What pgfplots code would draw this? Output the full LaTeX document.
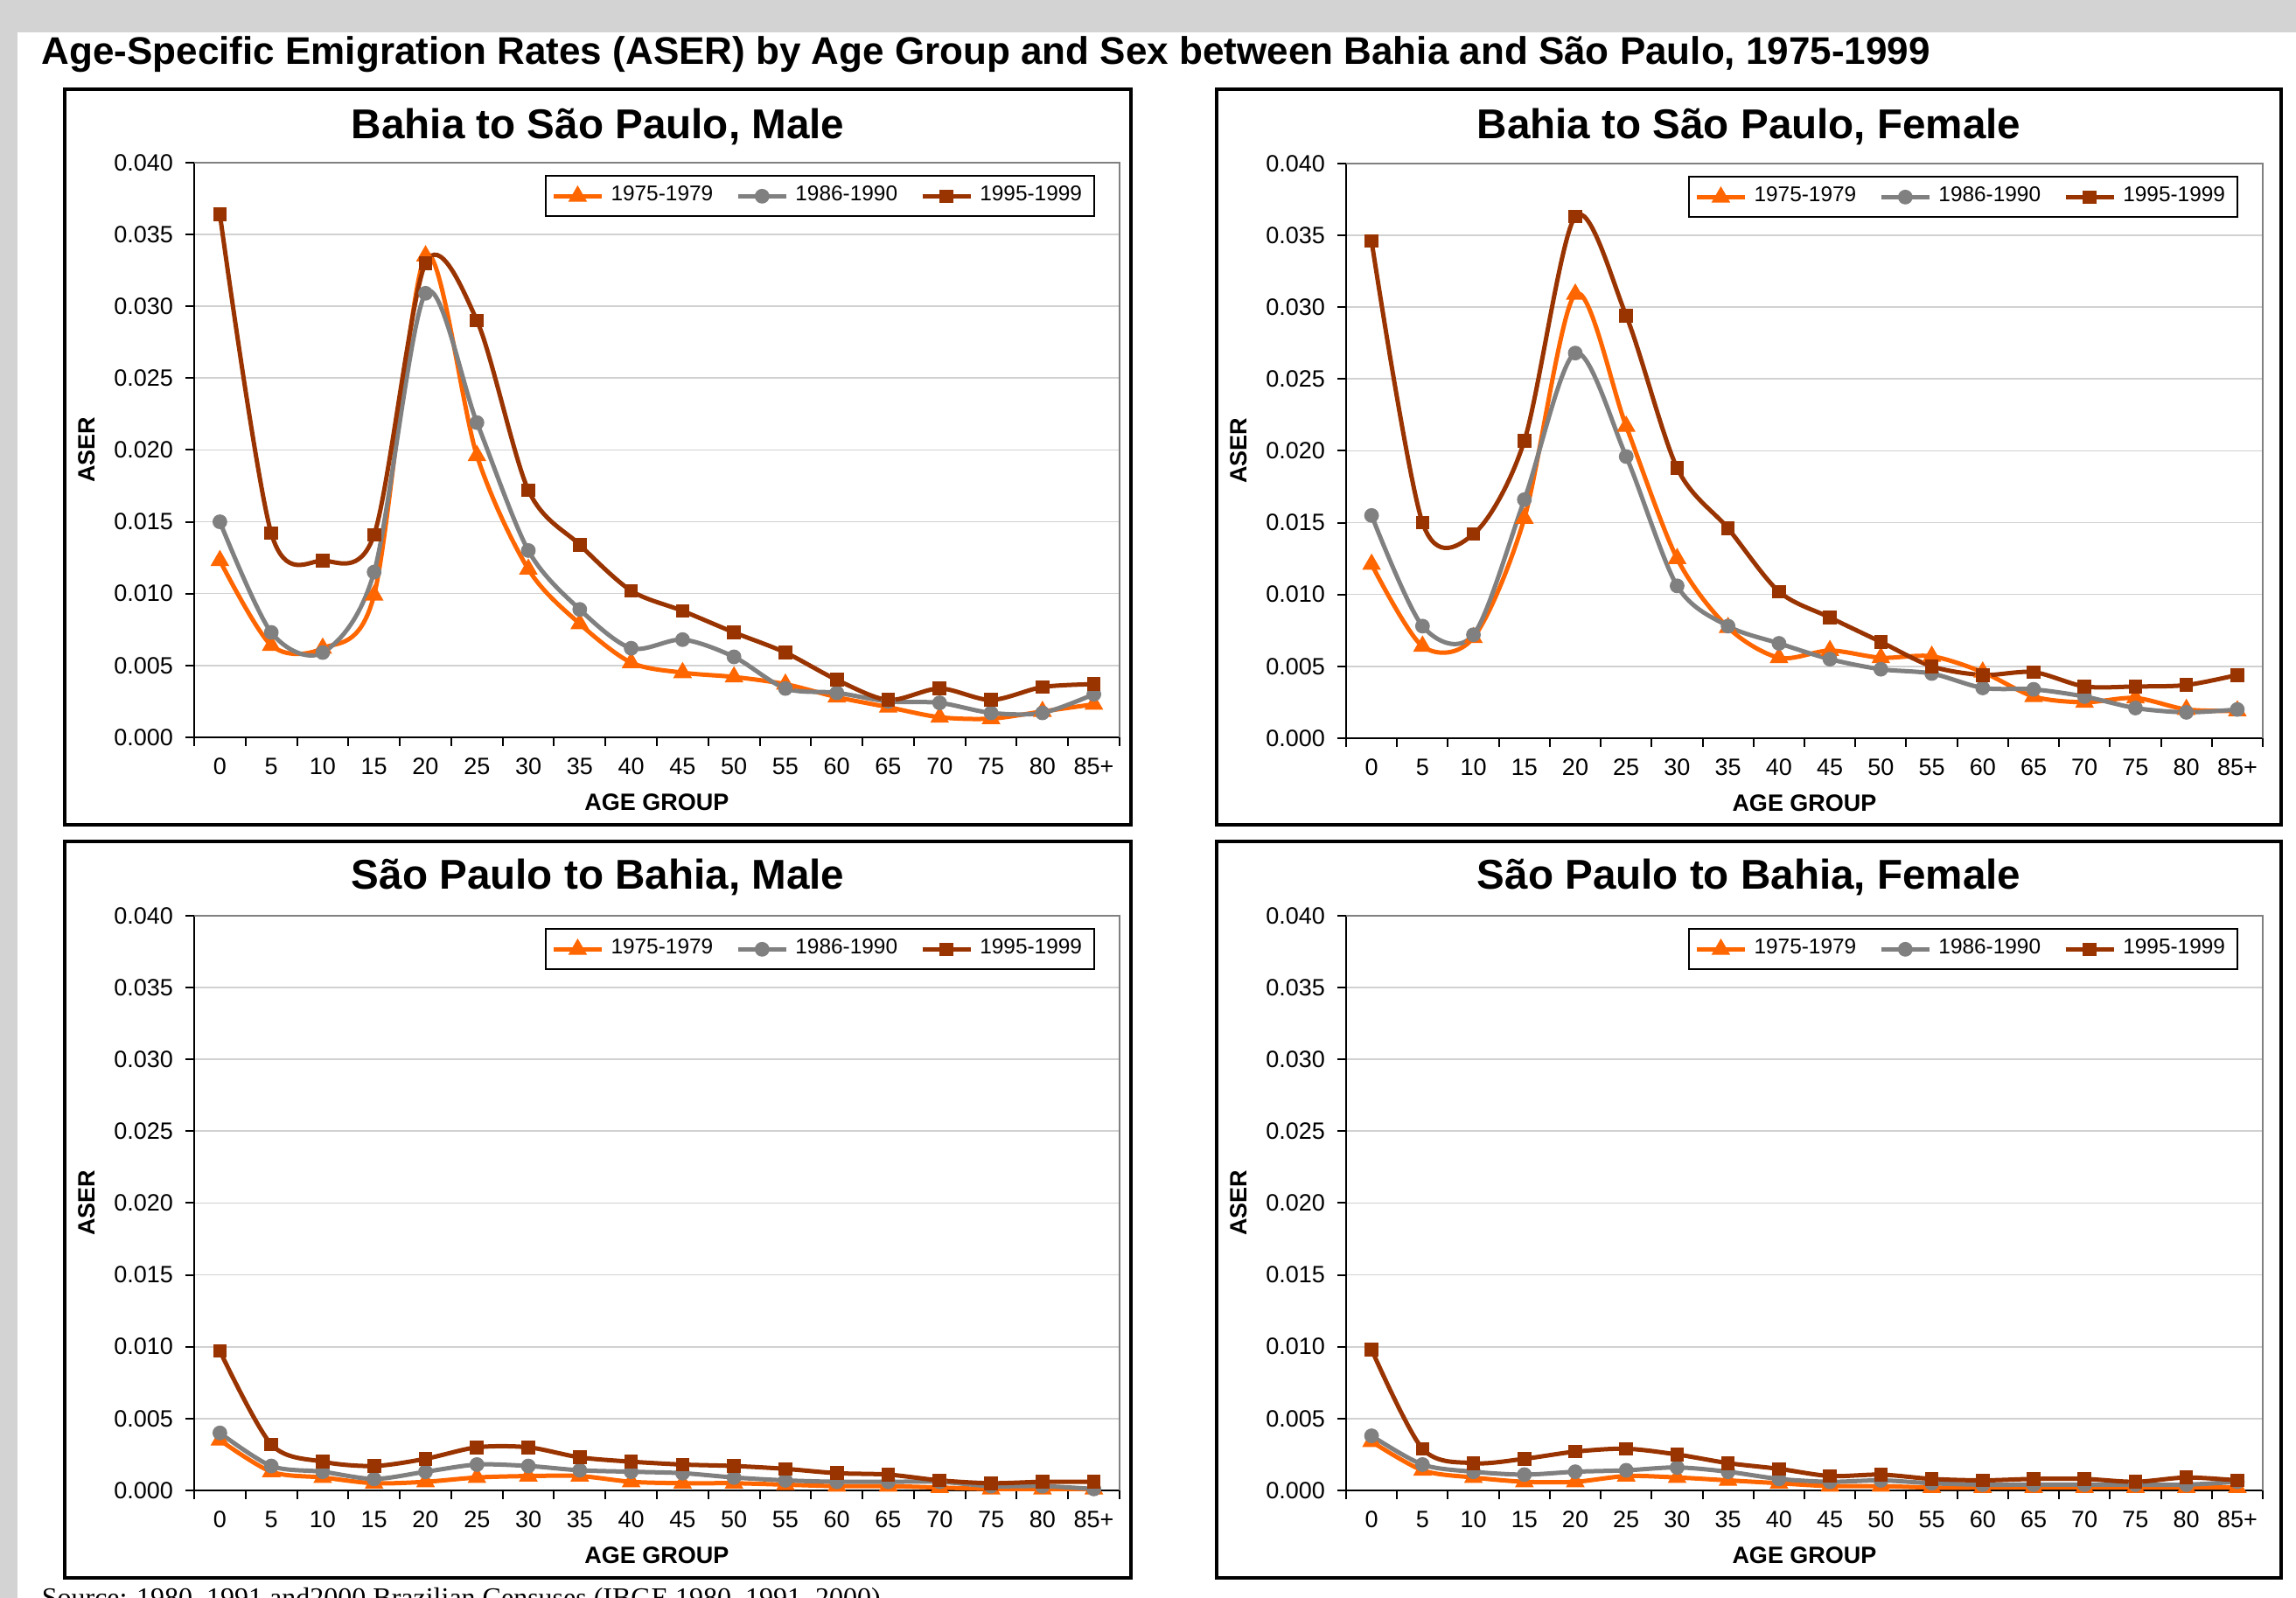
\documentclass[border=0pt]{standalone}
\usepackage{fontspec}
\setmainfont{Liberation Sans}
\newfontfamily\seriffont{Liberation Serif}
\usepackage{graphicx}
\usepackage{pgfplots}
\usepackage{pgfplotstable}
\pgfplotsset{compat=1.18}
\definecolor{cA}{HTML}{FF6600}
\definecolor{cB}{HTML}{808080}
\definecolor{cC}{HTML}{993300}
\definecolor{bg}{HTML}{D3D3D3}

% Bahia to Sao Paulo, Male
\pgfplotstableread{
x a b c
0 0.0123 0.0150 0.0364
1 0.0064 0.0073 0.0142
2 0.0062 0.0059 0.0123
3 0.0099 0.0115 0.0141
4 0.0335 0.0309 0.0330
5 0.0196 0.0219 0.0290
6 0.0117 0.0130 0.0172
7 0.0079 0.0089 0.0134
8 0.0052 0.0062 0.0102
9 0.0045 0.0068 0.0088
10 0.0042 0.0056 0.0073
11 0.0037 0.0034 0.0059
12 0.0028 0.0031 0.0040
13 0.0021 0.0025 0.0026
14 0.0014 0.0024 0.0034
15 0.0013 0.0017 0.0026
16 0.0018 0.0017 0.0035
17 0.0023 0.0030 0.0037
}\TLdata
% Bahia to Sao Paulo, Female
\pgfplotstableread{
x a b c
0 0.0121 0.0155 0.0346
1 0.0064 0.0078 0.0150
2 0.0070 0.0072 0.0142
3 0.0153 0.0166 0.0207
4 0.0309 0.0268 0.0363
5 0.0217 0.0196 0.0294
6 0.0125 0.0106 0.0188
7 0.0077 0.0078 0.0146
8 0.0056 0.0066 0.0102
9 0.0061 0.0055 0.0084
10 0.0056 0.0048 0.0067
11 0.0057 0.0045 0.0050
12 0.0046 0.0035 0.0044
13 0.0029 0.0034 0.0046
14 0.0025 0.0029 0.0036
15 0.0028 0.0021 0.0036
16 0.0020 0.0018 0.0037
17 0.0019 0.0020 0.0044
}\TRdata
% Sao Paulo to Bahia, Male
\pgfplotstableread{
x a b c
0 0.0035 0.0040 0.0097
1 0.0013 0.0017 0.0032
2 0.0009 0.0013 0.0020
3 0.0005 0.0008 0.0017
4 0.0006 0.0013 0.0022
5 0.0009 0.0018 0.0030
6 0.0010 0.0017 0.0030
7 0.0010 0.0014 0.0023
8 0.0006 0.0013 0.0020
9 0.0005 0.0012 0.0018
10 0.0005 0.0009 0.0017
11 0.0004 0.0007 0.0015
12 0.0003 0.0006 0.0012
13 0.0003 0.0006 0.0011
14 0.0002 0.0006 0.0007
15 0.0001 0.0003 0.0005
16 0.0001 0.0003 0.0006
17 0.0001 0.0001 0.0006
}\BLdata
% Sao Paulo to Bahia, Female
\pgfplotstableread{
x a b c
0 0.0034 0.0038 0.0098
1 0.0014 0.0018 0.0029
2 0.0009 0.0013 0.0019
3 0.0006 0.0011 0.0022
4 0.0006 0.0013 0.0027
5 0.0010 0.0014 0.0029
6 0.0009 0.0016 0.0025
7 0.0007 0.0013 0.0019
8 0.0005 0.0008 0.0015
9 0.0003 0.0006 0.0010
10 0.0003 0.0007 0.0011
11 0.0002 0.0005 0.0008
12 0.0002 0.0004 0.0007
13 0.0002 0.0004 0.0008
14 0.0002 0.0004 0.0008
15 0.0002 0.0004 0.0006
16 0.0002 0.0004 0.0009
17 0.0002 0.0006 0.0007
}\BRdata

\pgfplotsset{
  panel/.style={
    scale only axis, height=164.3pt,
    xmin=-0.5, xmax=17.5, ymin=0, ymax=0.04,
    xtick={-0.5,0.5,...,17.5},
    x tick label as interval,
    xticklabels={0,5,10,15,20,25,30,35,40,45,50,55,60,65,70,75,80,85+,{}},
    ytick={0,0.005,0.01,0.015,0.02,0.025,0.03,0.035,0.04},
    scaled y ticks=false,
    yticklabel style={/pgf/number format/.cd,fixed,fixed zerofill,precision=3,/tikz/.cd},
    /pgf/number format/assume math mode=true,
    tick label style={font=\fontsize{6.75}{8}\selectfont},
    axis x line*=bottom, axis y line*=left,
    axis line style={black, line width=0.6pt},
    tick align=outside,
    major tick length=2.5pt,
    tick style={black, line width=0.5pt},
    ymajorgrids, grid style={black!18, line width=0.4pt},
    xlabel={AGE GROUP}, ylabel={ASER},
    label style={font=\bfseries\fontsize{6.75}{8}\selectfont},
    xlabel style={at={(axis description cs:0.5,0)}, anchor=center, yshift=-18.5pt},
    ylabel style={at={([xshift=-30.75pt]axis description cs:0,0.5)}, anchor=center},
    clip=false,
    legend columns=3,
    legend style={at={(axis description cs:1,1)}, anchor=north east,
      xshift=-7pt, yshift=-3.6pt, draw=black, line width=0.5pt,
      font=\fontsize{6.1}{7}\selectfont, inner xsep=1.5pt, inner ysep=0.9pt,
      /tikz/every even column/.append style={column sep=4.5pt}, cells={anchor=west}},
    legend image code/.code={\draw[mark repeat=2,mark phase=2,##1] plot coordinates {(0pt,0pt) (6.9pt,0pt) (13.8pt,0pt)};},
    every axis plot/.append style={smooth, tension=0.5, line width=1.25pt},
  },
  sA/.style={color=cA, mark=triangle*, mark size=2.8pt, mark options={solid, line width=0.3pt}},
  sB/.style={color=cB, mark=*, mark size=1.95pt, mark options={solid, line width=0.3pt}},
  sC/.style={color=cC, mark=square*, mark size=1.8pt, mark options={solid, line width=0.3pt}},
}
\newcommand{\spines}{\draw[cB, line width=0.5pt] (rel axis cs:0,1) -- (rel axis cs:1,1) -- (rel axis cs:1,0);}

\begin{document}
\begin{tikzpicture}
\useasboundingbox (0,0) rectangle (656.25pt,-456.75pt);
\fill[bg] (0,0) rectangle (656.25pt,-456.75pt);
\fill[white] (5pt,-9.25pt) rectangle (656.25pt,-456.75pt);
\node[anchor=west, inner sep=0, font=\bfseries\fontsize{11}{13}\selectfont] at (11.75pt,-15.5pt)
  {Age-Specific Emigration Rates (ASER) by Age Group and Sex between Bahia and São Paulo, 1975-1999};

% panel frames
\draw[black, line width=0.8pt] (18.5pt,-25.5pt) rectangle (323.25pt,-235.75pt);
\draw[black, line width=0.8pt] (347.75pt,-25.5pt) rectangle (652pt,-235.75pt);
\draw[black, line width=0.8pt] (18.5pt,-240.5pt) rectangle (323.25pt,-451pt);
\draw[black, line width=0.8pt] (347.75pt,-240.5pt) rectangle (652pt,-451pt);

% panel titles
\node[font=\bfseries\fontsize{11.9}{14}\selectfont] at (170.9pt,-36.3pt) {Bahia to São Paulo, Male};
\node[font=\bfseries\fontsize{11.9}{14}\selectfont] at (499.9pt,-36.3pt) {Bahia to São Paulo, Female};
\node[font=\bfseries\fontsize{11.9}{14}\selectfont] at (170.9pt,-250.8pt) {São Paulo to Bahia, Male};
\node[font=\bfseries\fontsize{11.9}{14}\selectfont] at (499.9pt,-250.8pt) {São Paulo to Bahia, Female};

\begin{axis}[panel, width=264.5pt, at={(55.5pt,-210.75pt)}, anchor=south west]
\addplot+[sA] table[x=x,y=a] {\TLdata}; \addlegendentry{1975-1979}
\addplot+[sB] table[x=x,y=b] {\TLdata}; \addlegendentry{1986-1990}
\addplot+[sC] table[x=x,y=c] {\TLdata}; \addlegendentry{1995-1999}
\spines
\end{axis}

\begin{axis}[panel, width=262pt, at={(384.75pt,-211pt)}, anchor=south west]
\addplot+[sA] table[x=x,y=a] {\TRdata}; \addlegendentry{1975-1979}
\addplot+[sB] table[x=x,y=b] {\TRdata}; \addlegendentry{1986-1990}
\addplot+[sC] table[x=x,y=c] {\TRdata}; \addlegendentry{1995-1999}
\spines
\end{axis}

\begin{axis}[panel, width=264.5pt, at={(55.5pt,-426pt)}, anchor=south west]
\addplot+[sA] table[x=x,y=a] {\BLdata}; \addlegendentry{1975-1979}
\addplot+[sB] table[x=x,y=b] {\BLdata}; \addlegendentry{1986-1990}
\addplot+[sC] table[x=x,y=c] {\BLdata}; \addlegendentry{1995-1999}
\spines
\end{axis}

\begin{axis}[panel, width=262pt, at={(384.75pt,-426pt)}, anchor=south west]
\addplot+[sA] table[x=x,y=a] {\BRdata}; \addlegendentry{1975-1979}
\addplot+[sB] table[x=x,y=b] {\BRdata}; \addlegendentry{1986-1990}
\addplot+[sC] table[x=x,y=c] {\BRdata}; \addlegendentry{1995-1999}
\spines
\end{axis}

\node[anchor=base west, inner sep=0, font=\seriffont\fontsize{8}{9}\selectfont] at (11.75pt,-459.3pt)
  {Source: 1980, 1991 and2000 Brazilian Censuses (IBGE 1980, 1991, 2000).};
\end{tikzpicture}
\end{document}
